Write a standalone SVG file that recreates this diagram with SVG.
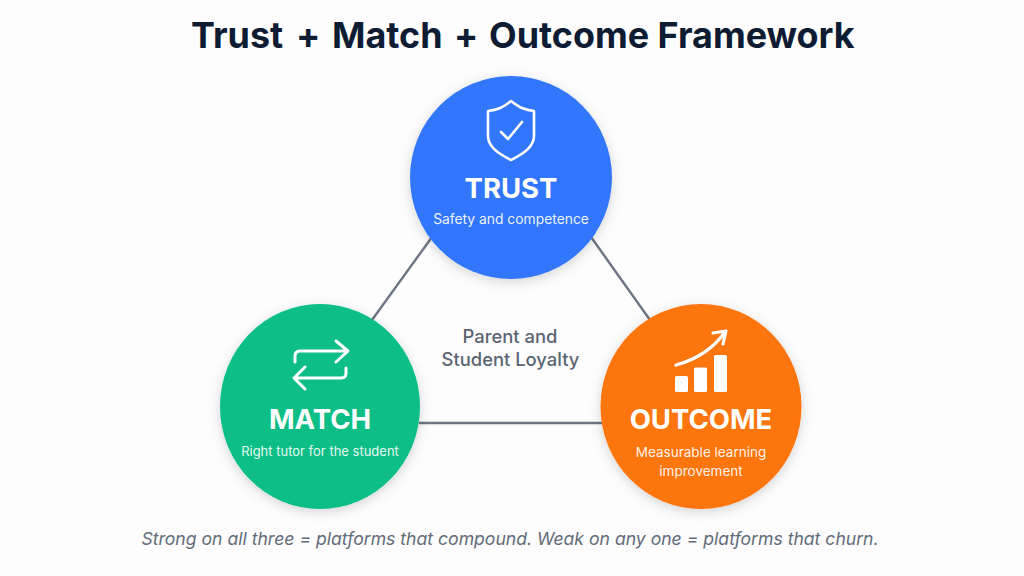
<svg xmlns="http://www.w3.org/2000/svg" width="1024" height="576" viewBox="0 0 1024 576">
<style>
text{font-family:Inter,"Noto Sans","Liberation Sans",sans-serif;text-anchor:middle}
.h{font-size:27.5px;font-weight:700;fill:#fff}
.s{font-size:13.85px;fill:#fff;fill-opacity:.92}
.c{font-size:18.4px;font-weight:500;fill:#5b6472}
.ic{fill:none;stroke:#fff;stroke-linecap:round;stroke-linejoin:round}
.ln{stroke:#6d7583;stroke-width:2.4;fill:none}
</style>
<defs><filter id="sh" x="-20%" y="-20%" width="140%" height="140%"><feDropShadow dx="0" dy="3" stdDeviation="6" flood-color="#000" flood-opacity=".16"/></filter></defs>
<rect width="1024" height="576" fill="#fdfdfd"/>
<text id="title" y="48" style="font-size:35.9px;font-weight:700;fill:#0d1b33;text-anchor:start"><tspan x="191">Trust </tspan><tspan x="296">+ </tspan><tspan x="332">Match </tspan><tspan x="454">+ </tspan><tspan x="489">Outcome Framework</tspan></text>
<g id="connectors">
<line class="ln" x1="432" y1="237" x2="372" y2="320"/>
<line class="ln" x1="591" y1="237" x2="650" y2="320"/>
<line class="ln" x1="419" y1="423" x2="602" y2="423"/>
</g>
<g id="trust">
<ellipse cx="511" cy="177.5" rx="101" ry="101.5" fill="#3377fb" filter="url(#sh)"/>
<path class="ic" stroke-width="2.6" d="M511 101C520 108 525 110 534 111V136C534 146 525 153 511 160C497 153 488 146 488 136V111C497 110 502 108 511 101Z"/>
<path class="ic" stroke-width="2.6" d="M501 132L508 139L522 122"/>
<text class="h" x="511" y="198">TRUST</text>
<text class="s" x="511" y="224">Safety and competence</text>
</g>
<g id="match">
<ellipse cx="320" cy="406.5" rx="100" ry="102.5" fill="#08be86" filter="url(#sh)"/>
<path class="ic" stroke-width="3" d="M295 362V356Q295 351 300 351H347M336 341L348 351L336 362"/>
<path class="ic" stroke-width="3" d="M346 368V373Q346 378 341 378H295M305 367L294 378L305 389"/>
<text class="h" x="320" y="429">MATCH</text>
<text class="s" x="320" y="456" style="font-size:13px">Right tutor for the student</text>
</g>
<g id="outcome">
<ellipse cx="701" cy="406.5" rx="100.5" ry="102.5" fill="#fd7411" filter="url(#sh)"/>
<rect x="675" y="376" width="13" height="16" rx="1.5" fill="#fff"/>
<rect x="694" y="367.500" width="13" height="24.500" rx="1.5" fill="#fff"/>
<rect x="714" y="355" width="13" height="37" rx="1.5" fill="#fff"/>
<path class="ic" stroke-width="3.2" d="M676 365C698 359 713 349 725 332M713 333L726 331L723 344"/>
<text class="h" x="701" y="429">OUTCOME</text>
<text class="s" x="701" y="457" style="font-size:13.5px">Measurable learning</text>
<text class="s" x="701" y="476" style="font-size:13.5px">improvement</text>
</g>
<g id="center">
<text class="c" x="510" y="343">Parent and</text>
<text class="c" x="510.500" y="366">Student Loyalty</text>
</g>
<text id="footer" x="510" y="545" style="font-size:17.6px;font-style:italic;fill:#626b79">Strong on all three = platforms that compound. Weak on any one = platforms that churn.</text>
</svg>
